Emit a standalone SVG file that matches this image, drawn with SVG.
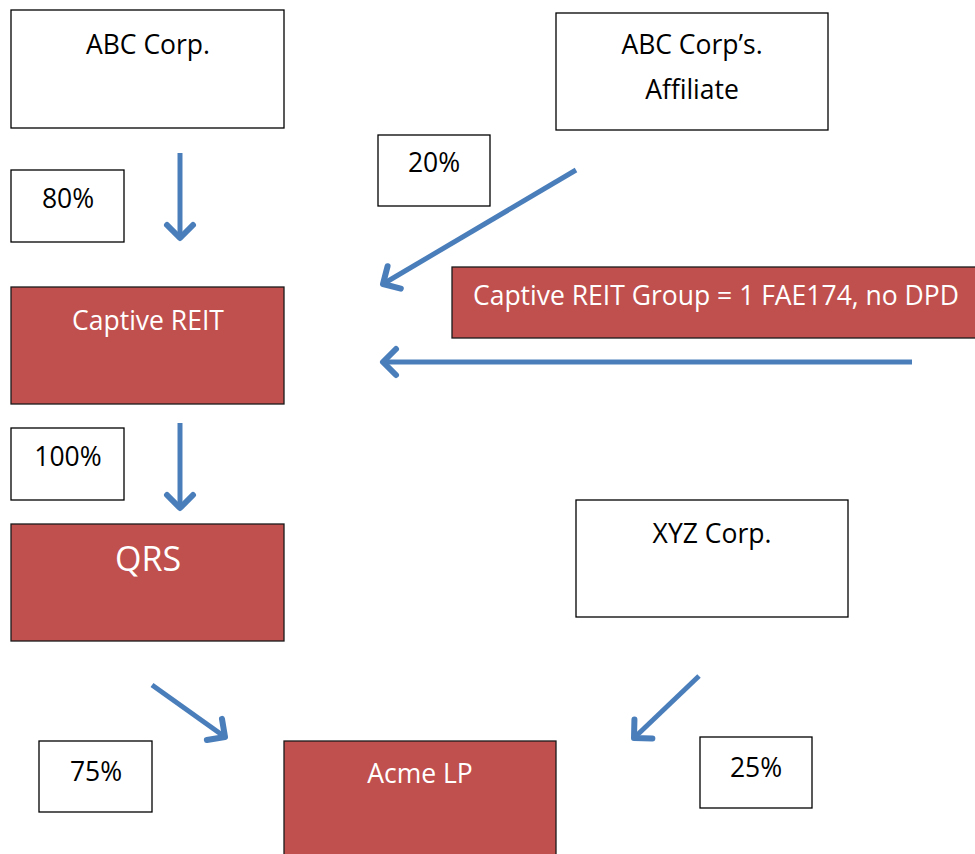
<svg xmlns="http://www.w3.org/2000/svg" width="975" height="854" viewBox="0 0 975 854">
<style>
.box{fill:#fff;stroke:#000;stroke-width:1.3}
.red{fill:#c0504d;stroke:#1a1a1a;stroke-width:1.3}
.t{font-family:"Open Sans","Liberation Sans",sans-serif;font-size:26.5px;fill:#000;text-anchor:middle}
.w{fill:#fff}
.big{font-size:34px}
.arr{stroke:#4a7ebb;stroke-width:5;fill:none;marker-end:url(#ah)}
</style>
<defs>
<marker id="ah" markerUnits="userSpaceOnUse" markerWidth="40" markerHeight="40" viewBox="-20 -20 40 40" refX="0" refY="0" orient="auto">
<path d="M -13,-13 L 0,0 L -13,13" fill="none" stroke="#4a7ebb" stroke-width="6" stroke-linecap="round" stroke-linejoin="round"/>
</marker>
</defs>
<rect width="975" height="854" fill="#fff"/>
<g id="abc"><rect class="box" x="11" y="10" width="273" height="118"/><text class="t" x="148" y="54">ABC Corp.</text></g>
<g id="affiliate"><rect class="box" x="556" y="13" width="272" height="117"/><text class="t" x="692" y="54">ABC Corp’s.</text><text class="t" x="692" y="99">Affiliate</text></g>
<g id="p80"><rect class="box" x="11" y="170" width="113" height="72"/><text class="t" x="68" y="208">80%</text></g>
<g id="p20"><rect class="box" x="378" y="135" width="112" height="71"/><text class="t" x="434" y="172">20%</text></g>
<g id="group"><rect class="red" x="452" y="267" width="530" height="71"/><text class="t w" x="716" y="305">Captive REIT Group = 1 FAE174, no DPD</text></g>
<g id="reit"><rect class="red" x="11" y="287" width="273" height="117"/><text class="t w" x="148" y="330">Captive REIT</text></g>
<g id="p100"><rect class="box" x="11" y="428" width="113" height="72"/><text class="t" x="68" y="466">100%</text></g>
<g id="qrs"><rect class="red" x="11" y="524" width="273" height="117"/><text class="t w big" x="148" y="571">QRS</text></g>
<g id="xyz"><rect class="box" x="576" y="500" width="272" height="117"/><text class="t" x="712" y="543">XYZ Corp.</text></g>
<g id="p75"><rect class="box" x="39" y="741" width="113" height="71"/><text class="t" x="96" y="781">75%</text></g>
<g id="acme"><rect class="red" x="284" y="741" width="272" height="130"/><text class="t w" x="420" y="783">Acme LP</text></g>
<g id="p25"><rect class="box" x="700" y="737" width="112" height="71"/><text class="t" x="756" y="777">25%</text></g>
<g id="connectors">
<line class="arr" x1="180" y1="153" x2="180" y2="238"/>
<line class="arr" x1="576" y1="170" x2="383" y2="284"/>
<line class="arr" x1="912" y1="362" x2="383" y2="362"/>
<line class="arr" x1="180" y1="423" x2="180" y2="508"/>
<line class="arr" x1="152" y1="685" x2="225" y2="737"/>
<line class="arr" x1="699" y1="676" x2="634" y2="738"/>
</g>
</svg>
